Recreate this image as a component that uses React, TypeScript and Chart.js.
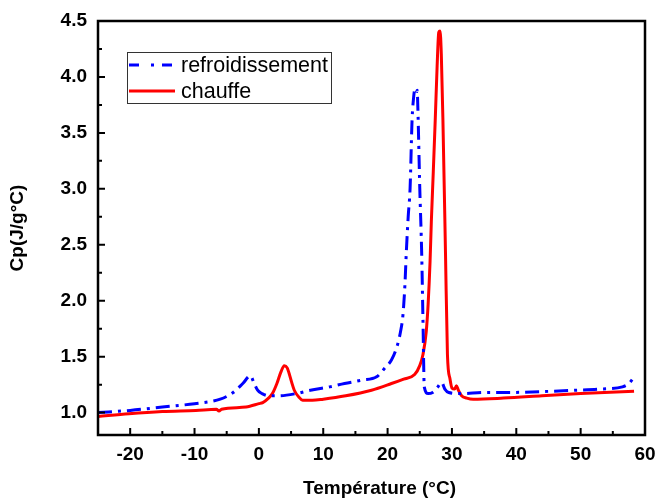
import React, { useEffect, useRef } from "react";
import { Chart, registerables } from "chart.js";

Chart.register(...registerables);

// Cooling curve (refroidissement)
const coolT = [
  -25, -20, -15, -10, -6, -4, -2.5, -1.3, -0.8, -0.2, 0.5, 1.6, 3, 5.8, 8, 11, 13.3, 16, 18.3,
  19.6, 20.6, 21.4, 22.0, 22.4, 22.7, 22.9, 23.2, 23.5, 23.8, 24.05, 24.2, 24.4, 24.6, 24.7,
  25.0, 25.3, 25.5, 25.7, 26.3, 27.0, 27.8, 28.4, 28.9, 29.5, 31.5, 35, 38.8, 45, 49.2, 53,
  56.5, 57.5, 58.3,
];
const coolCp = [
  1.0, 1.02, 1.05, 1.08, 1.12, 1.18, 1.26, 1.33, 1.27, 1.2, 1.17, 1.15, 1.15, 1.17, 1.2, 1.23,
  1.26, 1.29, 1.32, 1.4, 1.47, 1.58, 1.72, 1.88, 2.15, 2.42, 2.75, 3.01, 3.61, 3.82, 3.88,
  3.85, 3.88, 3.73, 3.01, 2.42, 1.82, 1.23, 1.17, 1.18, 1.23, 1.27, 1.21, 1.18, 1.17, 1.18,
  1.18, 1.19, 1.2, 1.21, 1.23, 1.26, 1.32,
];

// Heating curve (chauffe)
const heatT = [
  -25, -20.2, -15, -9.8, -6.6, -6.2, -5.8, -2, 0, 0.6, 1.5, 2.1, 2.8, 3.4, 3.95, 4.4, 4.7,
  5.1, 5.5, 6.2, 6.8, 8.3, 10, 13.5, 17.5, 20.6, 22.5, 24.2, 25, 25.5, 26.0, 26.3, 26.6, 26.8,
  27.1, 27.4, 27.7, 27.95, 28.15, 28.35, 28.6, 29.0, 29.3, 29.7, 30.0, 30.4, 30.7, 31.0, 31.5,
  32.3, 33.3, 38, 44, 50, 58.3,
];
const heatCp = [
  0.965, 0.99, 1.01, 1.02, 1.03, 1.015, 1.03, 1.05, 1.08, 1.09, 1.13, 1.17, 1.26, 1.36, 1.42,
  1.4, 1.35, 1.27, 1.2, 1.14, 1.11, 1.11, 1.12, 1.15, 1.2, 1.26, 1.3, 1.34, 1.42, 1.52, 1.72,
  1.97, 2.35, 2.71, 3.15, 3.61, 4.1, 4.4, 4.41, 4.2, 3.61, 2.42, 1.52, 1.3, 1.22, 1.21, 1.24,
  1.2, 1.15, 1.13, 1.12, 1.13, 1.15, 1.17, 1.19,
];

const xTicks = [-20, -10, 0, 10, 20, 30, 40, 50, 60];
const xMinorTicks = [-15, -5, 5, 15, 25, 35, 45, 55];
const yTicks = [1.0, 1.5, 2.0, 2.5, 3.0, 3.5, 4.0, 4.5];
const yMinorTicks = [1.25, 1.75, 2.25, 2.75, 3.25, 3.75, 4.25];

const seriesLabels = ["refroidissement", "chauffe"];
const xTitle = "Température (°C)";
const yTitle = "Cp(J/g°C)";

const FONT = "'Liberation Sans', Arial, Helvetica, sans-serif";
const BLUE = "#0000FF";
const RED = "#FF0000";
const BLUE_DASH = [14, 6, 3, 6];

const framePlugin = {
  id: "frameAndTicks",
  afterDatasetsDraw(chart: any) {
    const { ctx, chartArea } = chart;
    const xs = chart.scales.x;
    const ys = chart.scales.y;
    const { left, right, top, bottom } = chartArea;
    ctx.save();
    ctx.strokeStyle = "#000";
    ctx.lineWidth = 2;
    ctx.beginPath();
    const tick = (vals: number[], len: number) => {
      vals.forEach((v) => {
        const px = xs.getPixelForValue(v);
        ctx.moveTo(px, bottom);
        ctx.lineTo(px, bottom - len);
      });
    };
    const ytick = (vals: number[], len: number) => {
      vals.forEach((v) => {
        const py = ys.getPixelForValue(v);
        ctx.moveTo(left, py);
        ctx.lineTo(left + len, py);
      });
    };
    tick(xTicks, 7);
    tick(xMinorTicks, 4);
    ytick(yTicks, 7);
    ytick(yMinorTicks, 4);
    ctx.stroke();
    ctx.lineWidth = 2.5;
    ctx.strokeRect(left, top, right - left, bottom - top);
    ctx.restore();

    // X axis title
    ctx.save();
    ctx.fillStyle = "#000";
    ctx.font = `bold 19px ${FONT}`;
    ctx.textAlign = "center";
    ctx.textBaseline = "middle";
    ctx.fillText(xTitle, (left + right) / 2 + 8, 489);
    ctx.restore();

    // Legend box
    ctx.save();
    ctx.strokeStyle = "#333";
    ctx.lineWidth = 1;
    ctx.strokeRect(127.5, 52.5, 204, 51);
    ctx.lineWidth = 3;
    ctx.strokeStyle = BLUE;
    ctx.setLineDash([10, 12, 3, 8]);
    ctx.beginPath();
    ctx.moveTo(129, 65);
    ctx.lineTo(175, 65);
    ctx.stroke();
    ctx.setLineDash([]);
    ctx.strokeStyle = RED;
    ctx.beginPath();
    ctx.moveTo(129, 91);
    ctx.lineTo(175, 91);
    ctx.stroke();
    ctx.fillStyle = "#000";
    ctx.font = `21.5px ${FONT}`;
    ctx.textBaseline = "alphabetic";
    ctx.textAlign = "left";
    ctx.fillText(seriesLabels[0], 181, 72);
    ctx.fillText(seriesLabels[1], 181, 98);
    ctx.restore();
  },
};

export default function App() {
  const ref = useRef<HTMLCanvasElement | null>(null);
  useEffect(() => {
    if (!ref.current) return;
    const chart = new Chart(ref.current, {
      type: "line",
      data: {
        datasets: [
          {
            label: seriesLabels[0],
            data: coolT.map((t, i) => ({ x: t, y: coolCp[i] })),
            borderColor: BLUE,
            borderWidth: 3,
            borderDash: BLUE_DASH,
            pointRadius: 0,
            cubicInterpolationMode: "monotone",
            fill: false,
          },
          {
            label: seriesLabels[1],
            data: heatT.map((t, i) => ({ x: t, y: heatCp[i] })),
            borderColor: RED,
            borderWidth: 3,
            pointRadius: 0,
            cubicInterpolationMode: "monotone",
            fill: false,
          },
        ],
      },
      options: {
        animation: false,
        responsive: false,
        maintainAspectRatio: false,
        layout: { padding: { top: 21, right: 12, left: 0, bottom: 0 } },
        plugins: { legend: { display: false }, tooltip: { enabled: false } },
        scales: {
          x: {
            type: "linear",
            min: -25,
            max: 60,
            afterBuildTicks: (s: any) => {
              s.ticks = xTicks.map((v) => ({ value: v }));
            },
            afterFit: (s: any) => {
              s.height = 66;
              s.paddingLeft = 0;
              s.paddingRight = 0;
            },
            grid: { display: false, drawTicks: false },
            border: { display: false },
            ticks: {
              color: "#000",
              padding: 8,
              maxRotation: 0,
              font: { family: FONT, size: 19, weight: "bold" },
              callback: (v: any) => String(v),
            },
            title: { display: false },
          },
          y: {
            type: "linear",
            min: 0.8,
            max: 4.5,
            afterBuildTicks: (s: any) => {
              s.ticks = yTicks.map((v) => ({ value: v }));
            },
            afterFit: (s: any) => {
              s.width = 98;
              s.paddingTop = 0;
              s.paddingBottom = 0;
            },
            grid: { display: false, drawTicks: false },
            border: { display: false },
            ticks: {
              color: "#000",
              padding: 11,
              font: { family: FONT, size: 19, weight: "bold" },
              callback: (v: any) => Number(v).toFixed(1),
            },
            title: {
              display: true,
              text: yTitle,
              color: "#000",
              padding: { top: 6, bottom: 0 },
              font: { family: FONT, size: 19, weight: "bold" },
            },
          },
        },
      },
      plugins: [framePlugin],
    } as any);
    return () => chart.destroy();
  }, []);
  return (
    <div style={{ position: "fixed", left: 0, top: 0, width: 657, height: 501, background: "#fff" }}>
      <canvas ref={ref} width={657} height={501} style={{ width: 657, height: 501 }} />
    </div>
  );
}
